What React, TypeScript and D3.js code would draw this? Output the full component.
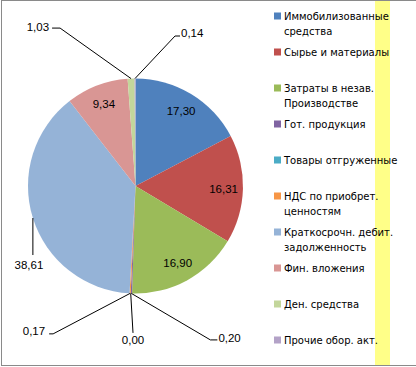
import React, { useEffect, useRef } from 'react';
import * as d3 from 'd3';

// legend categories (two-line captions split with \n)
const categories = [
  'Иммобилизованные\nсредства',
  'Сырье и материалы',
  'Затраты в незав.\nПроизводстве',
  'Гот. продукция',
  'Товары отгруженные',
  'НДС по приобрет.\nценностям',
  'Краткосрочн. дебит.\nзадолженность',
  'Фин. вложения',
  'Ден. средства',
  'Прочие обор. акт.',
];
const shares = [17.3, 16.31, 16.9, 0.2, 0.0, 0.17, 38.61, 9.34, 1.03, 0.14];
const colors = [
  '#4F81BD', '#C0504D', '#9BBB59', '#8064A2', '#4BACC6',
  '#F79646', '#95B3D7', '#D99694', '#C3D69B', '#B3A2C7',
];

// label placement for slices too thin to hold their label:
// text offset, elbow offset and horizontal tail, relative to the point on the rim
const outsideLabels: Record<number, { tx: number; ty: number; ex: number; ey: number; hx: number; anchor: string }> = {
  3: { tx: 87, ty: 45, ex: 79, ey: 46.5, hx: 7, anchor: 'start' },
  4: { tx: 2.3, ty: 46.5, ex: 2.3, ey: 39.5, hx: 0, anchor: 'middle' },
  5: { tx: -85, ty: 38, ex: -77, ey: 40.5, hx: -4, anchor: 'end' },
  6: { tx: -4, ty: 47, ex: 0, ey: 37, hx: 0, anchor: 'middle' },
  8: { tx: -82, ty: -52, ex: -71, ey: -50.5, hx: -8, anchor: 'end' },
  9: { tx: 46, ty: -45.5, ex: 40, ey: -42.5, hx: 5, anchor: 'start' },
};

const App = () => {
  const svgRef = useRef<SVGSVGElement>(null);

  useEffect(() => {
    const svg = d3.select(svgRef.current);
    svg.selectAll('*').remove();

    const width = 416;
    const height = 367;
    const cx = 135.5;
    const cy = 186;
    const r = 107.5;

    svg.attr('width', width).attr('height', height);

    // yellow strip behind the legend
    svg.append('rect')
      .attr('x', 375).attr('y', 0).attr('width', 15).attr('height', 366)
      .attr('fill', '#FFFF88');

    // chart frame
    svg.append('rect')
      .attr('x', 1.5).attr('y', 0.5).attr('width', 440).attr('height', 365)
      .attr('fill', 'none').attr('stroke', '#8a8a8a');

    const pie = d3.pie<number>().sort(null).value((d) => d);
    const arcs = pie(shares);
    const arc = d3.arc<d3.PieArcDatum<number>>().innerRadius(0).outerRadius(r);

    const g = svg.append('g').attr('transform', `translate(${cx},${cy})`);

    g.selectAll('path.slice')
      .data(arcs)
      .join('path')
      .attr('class', 'slice')
      .attr('d', arc)
      .attr('fill', (d, i) => colors[i]);

    const fmt = (v: number) => d3.format('.2f')(v).replace('.', ',');
    const labelFont = '"Liberation Sans", Arial, sans-serif';

    arcs.forEach((d, i) => {
      const mid = (d.startAngle + d.endAngle) / 2;
      const out = outsideLabels[i];
      if (!out) {
        const lr = r * 0.82;
        g.append('text')
          .attr('x', Math.sin(mid) * lr)
          .attr('y', -Math.cos(mid) * lr)
          .attr('dy', '0.35em')
          .attr('text-anchor', 'middle')
          .attr('font-family', labelFont)
          .attr('font-size', 11.5)
          .attr('fill', '#000')
          .text(fmt(shares[i]));
        return;
      }
      const ax = Math.sin(mid) * r;
      const ay = -Math.cos(mid) * r;
      g.append('polyline')
        .attr('points', [
          [ax, ay],
          [ax + out.ex, ay + out.ey],
          [ax + out.ex + out.hx, ay + out.ey],
        ].map((p) => p.join(',')).join(' '))
        .attr('fill', 'none')
        .attr('stroke', '#000')
        .attr('stroke-width', 1);
      g.append('text')
        .attr('x', ax + out.tx)
        .attr('y', ay + out.ty)
        .attr('dy', '0.35em')
        .attr('text-anchor', out.anchor)
        .attr('font-family', labelFont)
        .attr('font-size', 11.5)
        .attr('fill', '#000')
        .text(fmt(shares[i]));
    });

    // legend, evenly spaced rows
    const legendY = d3.scaleLinear().domain([0, categories.length - 1]).range([16, 340]);
    const legend = svg.append('g').attr('font-family', '"DejaVu Sans", Verdana, sans-serif').attr('font-size', 10);
    categories.forEach((c, i) => {
      const y = legendY(i);
      legend.append('rect')
        .attr('x', 274).attr('y', y - 3.5).attr('width', 7).attr('height', 7)
        .attr('fill', colors[i]);
      c.split('\n').forEach((line, j) => {
        legend.append('text')
          .attr('x', 284)
          .attr('y', y + j * 15)
          .attr('dy', '0.35em')
          .attr('fill', '#000')
          .text(line);
      });
    });
  }, []);

  return <svg ref={svgRef} style={{ position: 'absolute', left: 0, top: 0 }}></svg>;
};

export default App;
